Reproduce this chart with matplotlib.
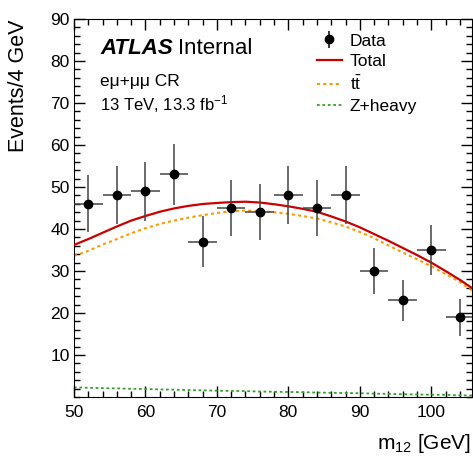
import numpy as np
import matplotlib
matplotlib.use('Agg')
import matplotlib.pyplot as plt
from matplotlib.ticker import MultipleLocator

plt.rcParams['font.family'] = ['Liberation Sans', 'DejaVu Sans']
plt.rcParams['mathtext.default'] = 'regular'

# data points (bin centres, 4 GeV bins)
data_x = [52, 56, 60, 64, 68, 72, 76, 80, 84, 88, 92, 96, 100, 104]
data_y = [46, 48, 49, 53, 37, 45, 44, 48, 45, 48, 30, 23, 35, 19]
bin_half = 2

# fitted curves, read every 2 GeV
curve_x = [50, 52, 54, 56, 58, 60, 62, 64, 66, 68, 70, 72, 74, 76, 78,
           80, 82, 84, 86, 88, 90, 92, 94, 96, 98, 100, 102, 104, 106]
total = [36.2, 37.6, 39.1, 40.6, 42.0, 43.1, 44.1, 44.9, 45.5, 45.95, 46.2,
         46.4, 46.5, 46.3, 45.9, 45.4, 44.8, 44.1, 43.0, 41.8, 40.4, 38.8,
         37.2, 35.5, 33.8, 32.0, 30.0, 27.9, 25.6]
ttbar = [33.6, 34.8, 36.3, 37.6, 39.0, 40.2, 41.2, 42.0, 42.7, 43.3, 43.8,
         44.2, 44.4, 44.3, 44.0, 43.6, 43.1, 42.5, 41.6, 40.6, 39.3, 37.8,
         36.1, 34.4, 32.8, 31.1, 29.3, 27.4, 25.0]
zheavy = [2.3, 2.2, 2.1, 2.05, 1.95, 1.9, 1.8, 1.75, 1.65, 1.6, 1.5, 1.45,
          1.4, 1.3, 1.25, 1.2, 1.15, 1.05, 1.0, 0.95, 0.9, 0.8, 0.75, 0.65,
          0.6, 0.55, 0.5, 0.4, 0.35]

fig = plt.figure(figsize=(4.73, 4.62), dpi=100)
ax = fig.add_axes([74/473, 65/462, 398/473, 378/462])

ax.plot(curve_x, total, color='#cc0000', lw=1.6, label='Total', zorder=3)
ax.plot(curve_x, ttbar, color='#ff9900', lw=1.5, ls=(0, (1.5, 1.5)),
        label=r'$t\bar{t}$', zorder=2)
ax.plot(curve_x, zheavy, color='#33a02c', lw=1.3, ls=(0, (1.5, 1.5)),
        label='Z+heavy', zorder=2)

err = np.sqrt(data_y)
ax.errorbar(data_x, data_y, xerr=bin_half, yerr=err, fmt='o', color='k',
            ecolor='#444444', elinewidth=1.1, markersize=6, capsize=0, zorder=4)
# proxy for the legend (vertical error only)
data_h = ax.errorbar([np.nan], [np.nan], yerr=[1], fmt='o', color='k',
                     elinewidth=1.1, markersize=6, capsize=0)

ax.set_xlim(50, 105.7)
ax.set_ylim(0, 90)
ax.xaxis.set_major_locator(MultipleLocator(10))
ax.xaxis.set_minor_locator(MultipleLocator(2))
ax.yaxis.set_major_locator(MultipleLocator(10))
ax.yaxis.set_minor_locator(MultipleLocator(2))
ax.set_yticks([10, 20, 30, 40, 50, 60, 70, 80, 90])
ax.tick_params(which='both', direction='in', top=True, right=True,
               labelsize=12.5, width=1)
ax.tick_params(which='major', length=8)
ax.tick_params(which='minor', length=4.3)
ax.tick_params(axis='x', pad=6)
ax.tick_params(axis='y', pad=3)

handles, labels = ax.get_legend_handles_labels()
order = [labels.index(l) for l in ['Total', r'$t\bar{t}$', 'Z+heavy']]
ax.legend([data_h] + [handles[i] for i in order],
          ['Data'] + [labels[i] for i in order],
          loc='upper left', bbox_to_anchor=(0.61, 0.962), frameon=False,
          fontsize=12.5, handlelength=1.45, handletextpad=0.46,
          labelspacing=0.33, borderpad=0, borderaxespad=0)

fig.text(100/473, 1 - 54/462, 'ATLAS', fontsize=16, fontweight='bold',
         style='italic', va='baseline')
fig.text(178/473, 1 - 54/462, 'Internal', fontsize=16, va='baseline')
fig.text(100/473, 1 - 86/462, 'eμ+μμ CR', fontsize=12.5, va='baseline')
fig.text(100/473, 1 - 110/462, '13 TeV, 13.3 fb$^{-1}$', fontsize=12,
         va='baseline')

fig.text(18.5/473, 1 - 20/462, 'Events/4 GeV', fontsize=15.5, rotation=90,
         ha='center', va='top')
fig.text(471/473, 1 - 449/462, 'm$_{12}$ [GeV]', fontsize=15, ha='right',
         va='baseline')

fig.savefig('out.png', dpi=100)
